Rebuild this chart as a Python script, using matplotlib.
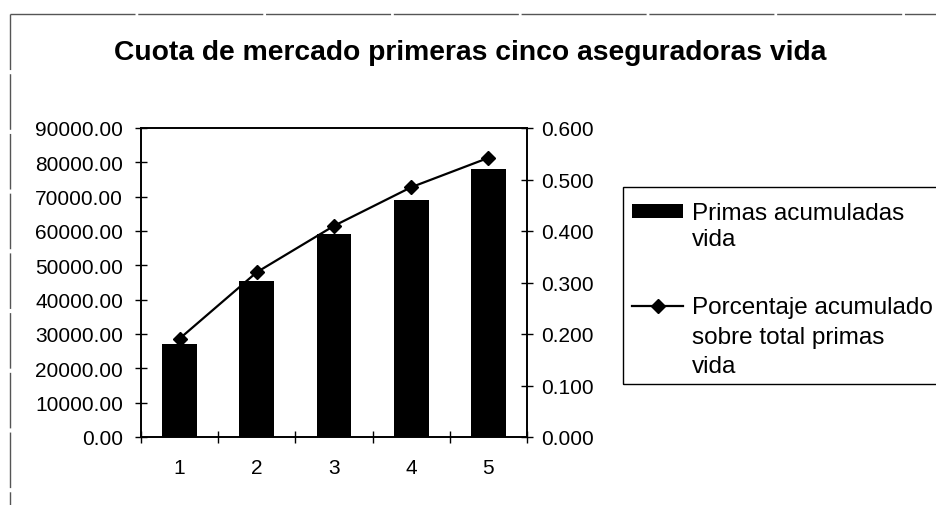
import matplotlib
matplotlib.use("Agg")
import matplotlib.pyplot as plt
from matplotlib.lines import Line2D
from matplotlib.patches import Rectangle
from matplotlib.legend_handler import HandlerPatch, HandlerLine2D

plt.rcParams['font.family'] = ['Liberation Sans', 'DejaVu Sans']

categories = [1, 2, 3, 4, 5]
primas_acumuladas = [27000, 45500, 59000, 69000, 78000]
porcentaje_acumulado = [0.191, 0.320, 0.410, 0.485, 0.542]
left_ticks = [0, 10000, 20000, 30000, 40000, 50000, 60000, 70000, 80000, 90000]
right_ticks = [0.0, 0.1, 0.2, 0.3, 0.4, 0.5, 0.6]
title = "Cuota de mercado primeras cinco aseguradoras vida"
label_bars = "Primas acumuladas\nvida"
label_line = "Porcentaje acumulado\nsobre total primas\nvida"

W, H = 936, 506
fig = plt.figure(figsize=(W / 100, H / 100), dpi=100)
fig.patch.set_facecolor('white')

def fx(px):
    return px / W

def fy(py):
    return 1 - py / H

ax = fig.add_axes([fx(141), fy(438), fx(527) - fx(141), fy(129) - fy(438)])
ax2 = ax.twinx()

bars = ax.bar(categories, primas_acumuladas, width=0.45, color='black', label=label_bars, zorder=2)
line, = ax2.plot(categories, porcentaje_acumulado, color='black', lw=1.6, marker='D',
                 markersize=7, label=label_line, zorder=3)

ax.set_xlim(0.5, 5.5)
ax.set_ylim(0, 90000)
ax2.set_ylim(0, 0.6)

ax.set_yticks(left_ticks)
ax.set_yticklabels([f"{v:.2f}" for v in left_ticks])
ax2.set_yticks(right_ticks)
ax2.set_yticklabels([f"{v:.3f}" for v in right_ticks])

ax.set_xticks(categories)
ax.set_xticklabels([str(c) for c in categories])
ax.set_xticks([0.5, 1.5, 2.5, 3.5, 4.5, 5.5], minor=True)
ax.tick_params(axis='x', which='major', length=0, labelsize=15, pad=15)
ax.tick_params(axis='x', which='minor', length=8, width=1, direction='inout')
ax.tick_params(axis='y', which='major', length=8, width=1, direction='inout', labelsize=15, pad=9)
ax2.tick_params(axis='y', which='major', length=8, width=1, direction='inout', labelsize=15, pad=6)

for a in (ax, ax2):
    for s in a.spines.values():
        s.set_color('black')
        s.set_linewidth(1.2)

fig.text(fx(470), fy(53), title, ha='center', va='center', fontsize=20.3, fontweight='bold')

# legend with handles aligned to the first text line
LEG_FS = 17.5
SP1 = 1.22
SP2 = 1.45


class TopPatch(HandlerPatch):
    def __init__(self, shift, **kw):
        super().__init__(**kw)
        self.shift = shift

    def create_artists(self, legend, orig_handle, xdescent, ydescent, width, height, fontsize, trans):
        arts = super().create_artists(legend, orig_handle, xdescent, ydescent, width, height, fontsize, trans)
        for a in arts:
            a.set_y(a.get_y() + self.shift)
        return arts


class TopLine(HandlerLine2D):
    def __init__(self, shift, **kw):
        super().__init__(**kw)
        self.shift = shift

    def create_artists(self, legend, orig_handle, xdescent, ydescent, width, height, fontsize, trans):
        arts = super().create_artists(legend, orig_handle, xdescent, ydescent, width, height, fontsize, trans)
        for a in arts:
            a.set_ydata([y + self.shift for y in a.get_ydata()])
        return arts


bar_handle = bars.patches[0]
leg = fig.legend(handles=[bar_handle, line], labels=[label_bars, label_line],
                 loc='upper left', bbox_to_anchor=(fx(632), fy(203)),
                 frameon=False, fontsize=LEG_FS, handlelength=2.1, handleheight=0.5,
                 handletextpad=0.37, borderpad=0, labelspacing=1.9, borderaxespad=0,
                 handler_map={bar_handle: TopPatch(0.5 * LEG_FS * SP1),
                              line: TopLine(1.0 * LEG_FS * SP2 - 3.0)})
texts = leg.get_texts()
texts[0].set_linespacing(SP1)
texts[1].set_linespacing(SP2)
fig.add_artist(Rectangle((fx(623), fy(385)), fx(945) - fx(623), fy(188) - fy(385),
                         transform=fig.transFigure, fill=False, edgecolor='black', lw=1.0))

# chart area border (partial, as in scanned image)
fig.add_artist(Line2D([fx(10), 1], [fy(15), fy(15)], transform=fig.transFigure,
                      color='#555555', lw=1.0, linestyle=(0, (90, 2))))
fig.add_artist(Line2D([fx(10), fx(10)], [fy(15), 0], transform=fig.transFigure,
                      color='#555555', lw=1.0, linestyle=(0, (40, 3))))

fig.savefig('out.png', dpi=100)
